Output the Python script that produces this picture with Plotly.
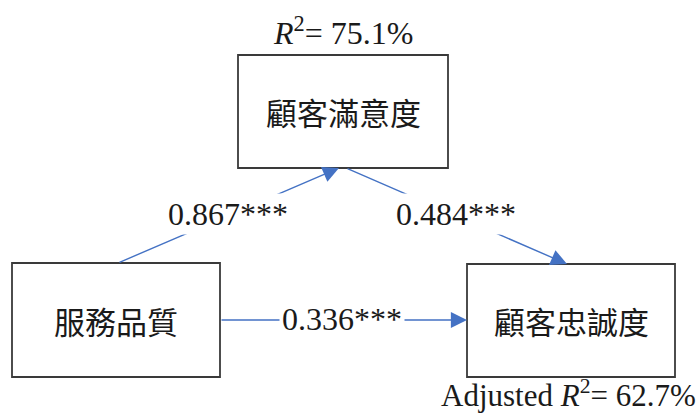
import plotly.graph_objects as go

# Path model: service quality -> satisfaction -> loyalty
constructs = ["服務品質", "顧客滿意度", "顧客忠誠度"]
path_from = ["服務品質", "顧客滿意度", "服務品質"]
path_to = ["顧客滿意度", "顧客忠誠度", "顧客忠誠度"]
path_coef = [0.867, 0.484, 0.336]
path_sig = ["***", "***", "***"]
r2_labels = ["<i>R</i><sup>2</sup>= ", "Adjusted <i>R</i><sup>2</sup>= "]
r2_values = [75.1, 62.7]

W, H = 698, 414

# box layout in pixel space (x0, y0, x1, y1)
boxes = {
    "服務品質": (12, 263, 220, 377),
    "顧客滿意度": (238, 55, 448, 168),
    "顧客忠誠度": (467, 264, 675, 377),
}
# arrow endpoints (tail, head)
arrow_geom = [
    ((118, 263), (339, 168)),
    ((346, 168), (567, 264)),
    ((220, 320), (467, 320)),
]
label_pos = [(228, 214), (456, 214), (342, 319)]

LINE = "#4472C4"
BORDER = "#3a3a3a"
SERIF = "Liberation Serif, Times New Roman, serif"
CJK = "Noto Sans CJK TC, Noto Sans CJK SC, sans-serif"

fig = go.Figure()
fig.add_trace(go.Scatter(x=[0, W], y=[0, H], mode="markers",
                         marker=dict(opacity=0), hoverinfo="skip", showlegend=False))

shapes = []
annotations = []
for name in constructs:
    x0, y0, x1, y1 = boxes[name]
    shapes.append(dict(type="rect", x0=x0, y0=y0, x1=x1, y1=y1, xref="x", yref="y",
                       line=dict(color=BORDER, width=1.8), fillcolor="white", layer="below"))
    annotations.append(dict(x=(x0 + x1) / 2, y=(y0 + y1) / 2, xref="x", yref="y",
                            text=name, showarrow=False,
                            font=dict(family=CJK, size=31, color="#1a1a1a")))

for (tail, head) in arrow_geom:
    annotations.append(dict(x=head[0], y=head[1], ax=tail[0], ay=tail[1],
                            xref="x", yref="y", axref="x", ayref="y", text="",
                            showarrow=True, arrowhead=2, arrowsize=2.3,
                            arrowwidth=1.4, arrowcolor=LINE, standoff=0))

for coef, sig, (lx, ly) in zip(path_coef, path_sig, label_pos):
    annotations.append(dict(x=lx, y=ly, xref="x", yref="y",
                            text=f"{coef:.3f}{sig}", showarrow=False,
                            bgcolor="white", borderpad=2,
                            font=dict(family=SERIF, size=32, color="#1a1a1a")))

annotations.append(dict(x=(boxes["顧客滿意度"][0] + boxes["顧客滿意度"][2]) / 2, y=31,
                        xref="x", yref="y", text=f"{r2_labels[0]}{r2_values[0]:.1f}%",
                        showarrow=False, font=dict(family=SERIF, size=32, color="#1a1a1a")))
annotations.append(dict(x=1.0, y=393, xref="paper", yref="y", xanchor="right",
                        text=f"{r2_labels[1]}{r2_values[1]:.1f}%",
                        showarrow=False, font=dict(family=SERIF, size=31, color="#1a1a1a")))

fig.update_layout(
    width=W, height=H, margin=dict(l=0, r=0, t=0, b=0),
    paper_bgcolor="white", plot_bgcolor="white",
    xaxis=dict(range=[0, W], visible=False, fixedrange=True),
    yaxis=dict(range=[H, 0], visible=False, fixedrange=True),
    shapes=shapes, annotations=annotations, showlegend=False,
)

fig.write_html("out.html", config={"displayModeBar": False})
